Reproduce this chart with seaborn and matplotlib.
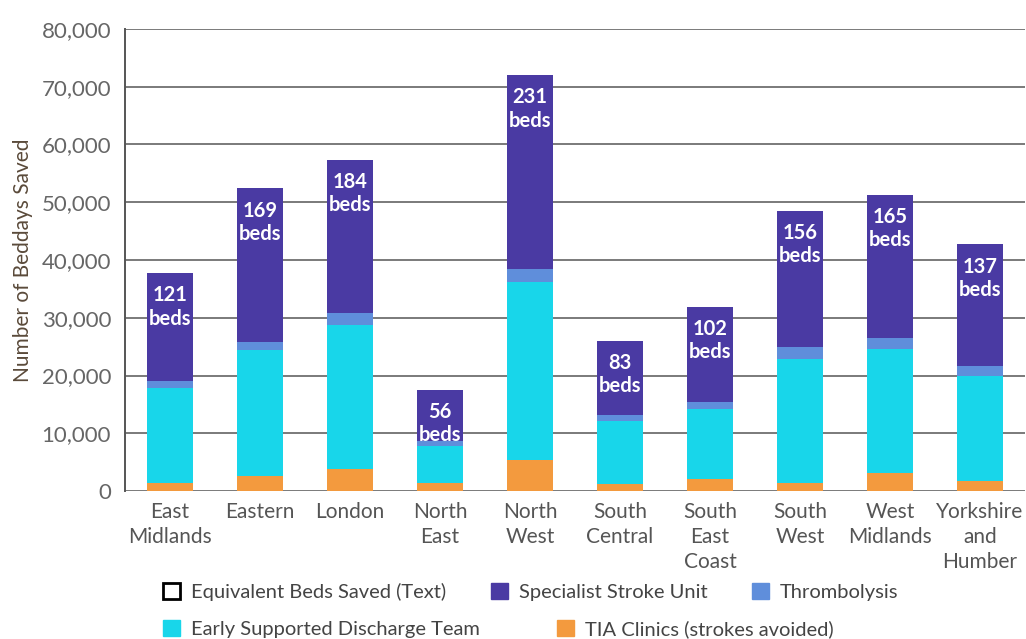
import numpy as np
import pandas as pd
import matplotlib
matplotlib.use("Agg")
import matplotlib.pyplot as plt
import seaborn as sns
from matplotlib.patches import Patch
from matplotlib.ticker import FuncFormatter, FixedLocator

# data (beddays saved per region)
regions = ["East\nMidlands", "Eastern", "London", "North\nEast", "North\nWest",
           "South\nCentral", "South\nEast\nCoast", "South\nWest", "West\nMidlands",
           "Yorkshire\nand\nHumber"]
tia_clinics = [1400, 2600, 3800, 1450, 5400, 1200, 2000, 1450, 3150, 1750]
esd_team = [16400, 21800, 24900, 6350, 30850, 11000, 12150, 21400, 21450, 18150]
thrombolysis = [1200, 1400, 2100, 850, 2150, 950, 1300, 2150, 1850, 1800]
stroke_unit = [18700, 26600, 26500, 8850, 33600, 12850, 16450, 23550, 24800, 21000]
beds_saved = [121, 169, 184, 56, 231, 83, 102, 156, 165, 137]

series_names = ["TIA Clinics (strokes avoided)", "Early Supported Discharge Team",
                "Thrombolysis", "Specialist Stroke Unit"]
colors = {
    "Specialist Stroke Unit": "#4a3aa3",
    "Thrombolysis": "#5f8edb",
    "Early Supported Discharge Team": "#18d6ea",
    "TIA Clinics (strokes avoided)": "#f39a3e",
}

df = pd.DataFrame({
    "region": regions,
    "TIA Clinics (strokes avoided)": tia_clinics,
    "Early Supported Discharge Team": esd_team,
    "Thrombolysis": thrombolysis,
    "Specialist Stroke Unit": stroke_unit,
})
# cumulative heights so the layers can be drawn back to front
cum = df[series_names].cumsum(axis=1)

sns.set_style("white")
plt.rcParams["font.family"] = ["Lato", "DejaVu Sans"]

fig = plt.figure(figsize=(10.26, 6.39), dpi=100)
ax = fig.add_axes([125 / 1026, 1 - 491 / 639, 900 / 1026, 462 / 639])

for name in reversed(series_names):
    layer = pd.DataFrame({"region": regions, "value": cum[name]})
    sns.barplot(data=layer, x="region", y="value", color=colors[name],
                saturation=1, width=0.51, errorbar=None, linewidth=0, ax=ax)

# bed labels inside the top segment
totals = cum[series_names[-1]].values
for i, (tot, beds) in enumerate(zip(totals, beds_saved)):
    ax.text(i, tot - 2100, f"{beds}\nbeds", ha="center", va="top", color="white",
            fontsize=14.5, fontweight="bold", linespacing=1.2)

ax.set_xlim(-0.5, 9.5)
ax.set_ylim(0, 80000)
ax.yaxis.set_major_locator(FixedLocator(np.arange(0, 80001, 10000)))
ax.yaxis.set_major_formatter(FuncFormatter(lambda v, p: f"{int(v):,}"))
ax.grid(axis="y", color="#7a7a7a", linewidth=1.4)
ax.set_axisbelow(True)
for s in ["top", "right", "bottom"]:
    ax.spines[s].set_visible(False)
ax.spines["left"].set_color("#555555")
ax.spines["left"].set_linewidth(1.4)

ax.set_xlabel("")
ax.set_ylabel("Number of Beddays Saved", fontsize=15, color="#5a4a3a", labelpad=6)
ax.tick_params(axis="y", labelsize=16, colors="#555555", length=4, width=1.2,
               direction="out", pad=6)
ax.tick_params(axis="y", labelcolor="#666666")
ax.set_xticks(range(len(regions)))
ax.set_xticklabels(regions, fontsize=15, color="#555555", linespacing=1.3)
ax.tick_params(axis="x", length=0, pad=8)
# small ticks between categories
ax.set_xticks(np.arange(0.5, 9.5, 1), minor=True)
ax.tick_params(axis="x", which="minor", length=5, width=1.2, color="#555555")

# legend rows below the chart
beds_handle = Patch(facecolor="white", edgecolor="black", linewidth=2,
                    label="Equivalent Beds Saved (Text)")
row1 = [beds_handle,
        Patch(color=colors["Specialist Stroke Unit"], label="Specialist Stroke Unit"),
        Patch(color=colors["Thrombolysis"], label="Thrombolysis")]
row2 = [Patch(color=colors["Early Supported Discharge Team"], label="Early Supported Discharge Team"),
        Patch(color=colors["TIA Clinics (strokes avoided)"], label="TIA Clinics (strokes avoided)")]

leg1 = fig.legend(handles=row1, loc="upper left", bbox_to_anchor=(163 / 1026, 1 - 583 / 639),
                  ncol=3, frameon=False, fontsize=14.5, handlelength=0.85, handleheight=0.85,
                  columnspacing=2.2, handletextpad=0.55, borderaxespad=0, borderpad=0,
                  labelcolor="#444444")
leg2 = fig.legend(handles=row2, loc="upper left", bbox_to_anchor=(163 / 1026, 1 - 620 / 639),
                  ncol=2, frameon=False, fontsize=14.5, handlelength=0.85, handleheight=0.85,
                  columnspacing=3.8, handletextpad=0.55, borderaxespad=0, borderpad=0,
                  labelcolor="#444444")

fig.savefig("out.png", dpi=100)
